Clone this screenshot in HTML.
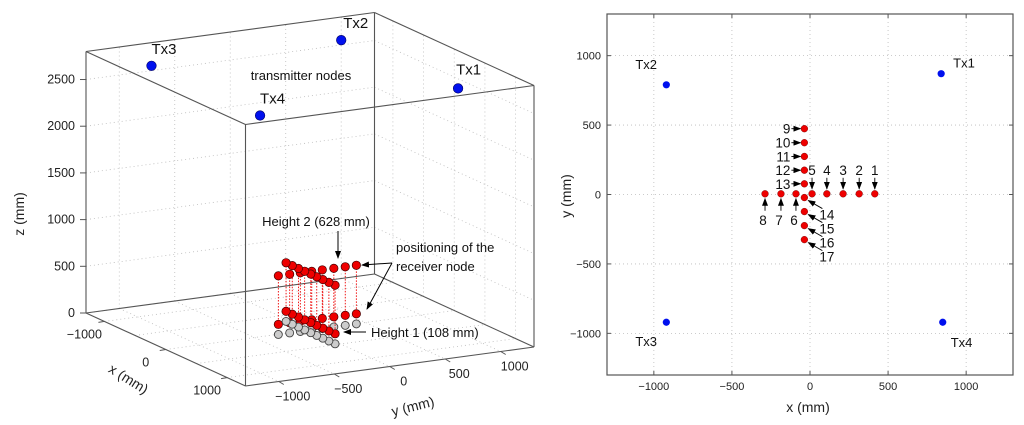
<!DOCTYPE html>
<html><head><meta charset="utf-8">
<style>
html,body{margin:0;padding:0;background:#fff;width:1024px;height:425px;overflow:hidden}
svg{display:block;font-family:"Liberation Sans",Arial,sans-serif}
</style></head>
<body>
<svg id="fig" width="1024" height="425" viewBox="0 0 1024 425" xmlns="http://www.w3.org/2000/svg">
<g id="left"></g>
<g id="right"></g>
</svg>
<script>
// ---- data ----
const txNames = ["Tx1","Tx2","Tx3","Tx4"];
const txX = [840, -920, -920, 850];
const txY = [870, 790, -920, -920];
const txZ = [2700, 2700, 2700, 2700];
const rxIds = [1,2,3,4,5,6,7,8,9,10,11,12,13,14,15,16,17];
const rxX = [415, 315, 212, 108, 13, -90, -186, -288, -36, -36, -36, -36, -36, -36, -36, -36, -36];
const rxY = [5, 5, 5, 5, 5, 5, 5, 5, 474, 373, 274, 175, 77, -22, -123, -224, -325];
const heights = [108, 628];
const tickXY = [-1000, -500, 0, 500, 1000];
const tickXLabels = [-1000, 0, 1000];
const tickZ = [0, 500, 1000, 1500, 2000, 2500];
const tick2D = [-1000, -500, 0, 500, 1000];

const NS = "http://www.w3.org/2000/svg";
function mk(parent, tag, attrs, text){
  const e = document.createElementNS(NS, tag);
  for (const k in attrs) e.setAttribute(k, attrs[k]);
  if (text !== undefined) e.textContent = text;
  parent.appendChild(e);
  return e;
}
const L = document.getElementById('left');
const R = document.getElementById('right');
const defs = mk(document.getElementById('fig'),'defs',{});
const mrk = mk(defs,'marker',{id:'ah',markerWidth:'8',markerHeight:'6',refX:'7',refY:'3',orient:'auto',markerUnits:'userSpaceOnUse'});
mk(mrk,'path',{d:'M0,0 L8,3 L0,6 z',fill:'#000'});

// ---- 3D projection ----
const O = [86, 313], EX = [159.5, 73], EY = [288.5, -39], EZ = 261.5, ZMAX = 2800, R3 = 1300;
function P(x, y, z){
  const fx = (x + R3) / (2*R3), fy = (y + R3) / (2*R3);
  return [O[0] + fx*EX[0] + fy*EY[0], O[1] + fx*EX[1] + fy*EY[1] - z/ZMAX*EZ];
}
function line3(g, a, b, st){
  const p = P(...a), q = P(...b);
  return mk(g,'line',Object.assign({x1:p[0],y1:p[1],x2:q[0],y2:q[1]},st));
}
const gridSt = {stroke:'#bbb','stroke-width':'0.8','stroke-dasharray':'1,3'};
const gg = mk(L,'g',{});


tickZ.forEach(z=>{
  line3(gg,[-R3,-R3,z],[-R3,R3,z],gridSt);
  line3(gg,[-R3,R3,z],[R3,R3,z],gridSt);
});
tickXY.forEach(v=>{
  line3(gg,[-R3,v,0],[-R3,v,ZMAX],gridSt);
  line3(gg,[v,R3,0],[v,R3,ZMAX],gridSt);
  line3(gg,[v,-R3,0],[v,R3,0],gridSt);
  line3(gg,[-R3,v,0],[R3,v,0],gridSt);
});
// box
const boxSt = {stroke:'#555','stroke-width':'1.1'};
const gb = mk(L,'g',{});


const cs = [[-R3,-R3],[R3,-R3],[R3,R3],[-R3,R3]];
for (let i=0;i<4;i++){
  const a=cs[i], b=cs[(i+1)%4];
  line3(gb,[a[0],a[1],0],[b[0],b[1],0],boxSt);
  line3(gb,[a[0],a[1],ZMAX],[b[0],b[1],ZMAX],boxSt);
  line3(gb,[a[0],a[1],0],[a[0],a[1],ZMAX],boxSt);
}
// ticks & labels
const tl = {'font-size':'12.5',fill:'#222'};
tickZ.forEach(z=>{
  const p=P(-R3,-R3,z);
  mk(L,'line',{x1:p[0]-6,y1:p[1],x2:p[0],y2:p[1],stroke:'#555'});
  const t=mk(L,'text',Object.assign({x:p[0]-11,y:p[1]+4,'text-anchor':'end'},tl),String(z));
  
  
});
tickXLabels.forEach(v=>{
  const p=P(v,-R3,0);
  mk(L,'line',{x1:p[0],y1:p[1],x2:p[0]-6,y2:p[1]+1,stroke:'#555'});
  const t=mk(L,'text',Object.assign({x:p[0]-20,y:p[1]+17,'text-anchor':'middle'},tl),String(v).replace('-','\u2212'));
  
  
});
tickXY.forEach(v=>{
  const q=P(R3,v,0);
  mk(L,'line',{x1:q[0],y1:q[1],x2:q[0]+5,y2:q[1]+3,stroke:'#555'});
  const u=mk(L,'text',Object.assign({x:q[0]+14,y:q[1]+19,'text-anchor':'middle'},tl),String(v).replace('-','\u2212'));
  
  
});
let t;
t=mk(L,'text',{x:0,y:0,'font-size':'14',fill:'#222','text-anchor':'middle',transform:'translate(24,214) rotate(-90)'},'z (mm)');

t=mk(L,'text',{x:0,y:0,'font-size':'14',fill:'#222','text-anchor':'middle',transform:'translate(126,383) rotate(32)'},'x (mm)');

t=mk(L,'text',{x:0,y:0,'font-size':'14',fill:'#222','text-anchor':'middle',transform:'translate(414,411) rotate(-14)'},'y (mm)');


// receivers 3D (x/y swapped in 3D view)
for (let i=0;i<rxIds.length;i++){
  const X3 = rxY[i], Y3 = rxX[i];
  const g0=P(X3,Y3,0), g1=P(X3,Y3,heights[0]), g2=P(X3,Y3,heights[1]);
  const ln=mk(L,'line',{x1:g0[0],y1:g0[1],x2:g2[0],y2:g2[1],stroke:'#e00','stroke-width':'0.9','stroke-dasharray':'1.5,1.5'});
  
  
  const c0=mk(L,'circle',{cx:g0[0],cy:g0[1],r:4,fill:'#ccc',stroke:'#444','stroke-width':'0.9'});
  
  
  const c1=mk(L,'circle',{cx:g1[0],cy:g1[1],r:4.2,fill:'#e00',stroke:'#400','stroke-width':'0.7'});
  
  
  const c2=mk(L,'circle',{cx:g2[0],cy:g2[1],r:4.2,fill:'#e00',stroke:'#400','stroke-width':'0.7'});
  
  
}
// transmitters 3D
const txOff3 = [[-2,-14],[2,-12],[0,-12],[0,-12]];
for (let i=0;i<4;i++){
  const p=P(txX[i],txY[i],txZ[i]);
  const c=mk(L,'circle',{cx:p[0],cy:p[1],r:4.8,fill:'#0010ee',stroke:'#000066','stroke-width':'0.6'});
  
  
  const lb=mk(L,'text',{x:p[0]+txOff3[i][0],y:p[1]+txOff3[i][1],'font-size':'15',fill:'#111'},txNames[i]);
  
  
}
const an={'font-size':'13',fill:'#111'};
t=mk(L,'text',Object.assign({x:301,y:80,'text-anchor':'middle'},an),'transmitter nodes');

t=mk(L,'text',Object.assign({x:316,y:226,'text-anchor':'middle'},an),'Height 2 (628 mm)');

mk(L,'line',{x1:338,y1:231,x2:338,y2:258,stroke:'#000','marker-end':'url(#ah)'});
t=mk(L,'text',Object.assign({x:396,y:252},an),'positioning of the');

t=mk(L,'text',Object.assign({x:396,y:271},an),'receiver node');

mk(L,'line',{x1:392,y1:263,x2:362,y2:265,stroke:'#000','marker-end':'url(#ah)'});
mk(L,'line',{x1:392,y1:263,x2:367,y2:309,stroke:'#000','marker-end':'url(#ah)'});
t=mk(L,'text',Object.assign({x:371,y:337},an),'Height 1 (108 mm)');

mk(L,'line',{x1:366,y1:332,x2:344,y2:332,stroke:'#000','marker-end':'url(#ah)'});

// ---- 2D chart ----
const AX = {l:607, r:1013, t:14, b:375, min:-1300, max:1300};
const sx = v => AX.l + (v-AX.min)/(AX.max-AX.min)*(AX.r-AX.l);
const sy = v => AX.b - (v-AX.min)/(AX.max-AX.min)*(AX.b-AX.t);
tick2D.forEach(v=>{
  mk(R,'line',{x1:sx(v),y1:AX.t,x2:sx(v),y2:AX.b,stroke:'#bbb','stroke-width':'0.8','stroke-dasharray':'1,3'});
  mk(R,'line',{x1:AX.l,y1:sy(v),x2:AX.r,y2:sy(v),stroke:'#bbb','stroke-width':'0.8','stroke-dasharray':'1,3'});
  mk(R,'line',{x1:sx(v),y1:AX.b,x2:sx(v),y2:AX.b-4,stroke:'#555'});
  mk(R,'line',{x1:sx(v),y1:AX.t,x2:sx(v),y2:AX.t+4,stroke:'#555'});
  mk(R,'line',{x1:AX.l,y1:sy(v),x2:AX.l+4,y2:sy(v),stroke:'#555'});
  mk(R,'line',{x1:AX.r,y1:sy(v),x2:AX.r-4,y2:sy(v),stroke:'#555'});
  const a=mk(R,'text',{x:sx(v),y:AX.b+15,'font-size':'11',fill:'#222','text-anchor':'middle'},String(v).replace('-','\u2212'));
  
  const b=mk(R,'text',{x:AX.l-6,y:sy(v)+4,'font-size':'11',fill:'#222','text-anchor':'end'},String(v).replace('-','\u2212'));
  
});
t=mk(R,'rect',{x:AX.l,y:AX.t,width:AX.r-AX.l,height:AX.b-AX.t,fill:'none',stroke:'#555','stroke-width':'1.2'});

t=mk(R,'text',{x:808,y:412,'font-size':'14',fill:'#222','text-anchor':'middle'},'x (mm)');

t=mk(R,'text',{x:0,y:0,'font-size':'14',fill:'#222','text-anchor':'middle',transform:'translate(571,196) rotate(-90)'},'y (mm)');


const txOff2 = [[12,-6],[-31,-16],[-31,24],[8,25]];
for (let i=0;i<4;i++){
  const c=mk(R,'circle',{cx:sx(txX[i]),cy:sy(txY[i]),r:3.6,fill:'#0010ee'});
  
  
  const lb=mk(R,'text',{x:sx(txX[i])+txOff2[i][0],y:sy(txY[i])+txOff2[i][1],'font-size':'13',fill:'#111'},txNames[i]);
  
  
}
for (let i=0;i<rxIds.length;i++){
  const x=sx(rxX[i]), y=sy(rxY[i]), id=rxIds[i];
  const c=mk(R,'circle',{cx:x,cy:y,r:3.4,fill:'#e00',stroke:'#600','stroke-width':'0.4'});
  
  
  let lx,ly,ax1,ay1,ax2,ay2,anc='middle';
  if (id<=5){lx=x;ly=y-19;ax1=x;ay1=y-16;ax2=x;ay2=y-5;}
  else if (id<=8){lx=x-2;ly=y+31;ax1=x;ay1=y+17;ax2=x;ay2=y+5;}
  else if (id<=13){lx=x-14;ly=y+5;anc='end';ax1=x-13;ay1=y;ax2=x-4;ay2=y;}
  else {lx=x+15;ly=y+22;anc='start';ax1=x+18;ay1=y+11;ax2=x+4;ay2=y+3;}
  mk(R,'line',{x1:ax1,y1:ay1,x2:ax2,y2:ay2,stroke:'#000','stroke-width':'0.9','marker-end':'url(#ah)'});
  const lb=mk(R,'text',{x:lx,y:ly,'font-size':'13.5',fill:'#111','text-anchor':anc},String(id));
  
  
}
</script>
</body></html>
